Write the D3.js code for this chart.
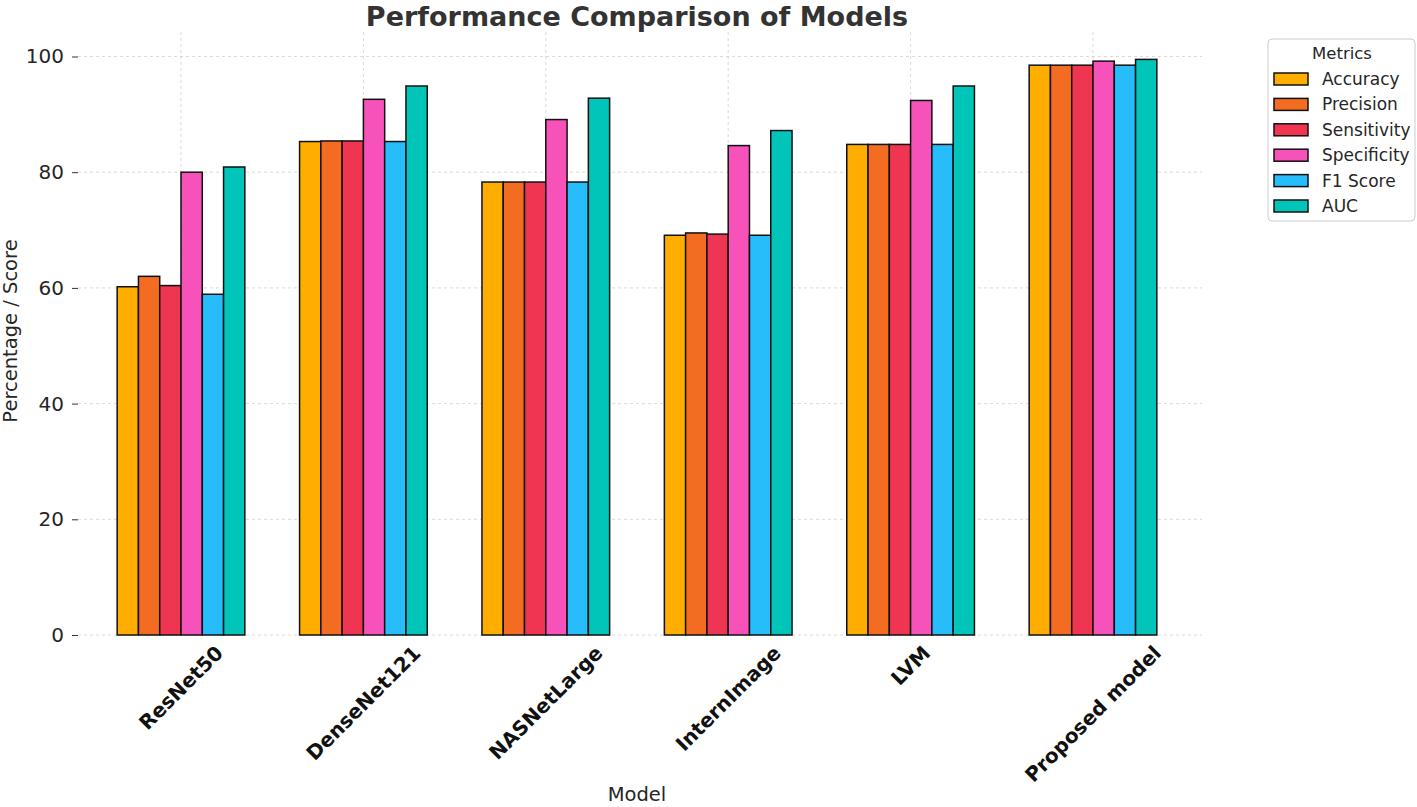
<!DOCTYPE html>
<html><head><meta charset="utf-8">
<script src="https://cdn.jsdelivr.net/npm/d3@7"></script>
<style>body{margin:0;background:#fff;} svg{display:block;font-family:"DejaVu Sans",sans-serif;}</style>
</head><body>
<svg id="chart" width="1417" height="807"></svg>
<script>
const models = ["ResNet50","DenseNet121","NASNetLarge","InternImage","LVM","Proposed model"];
const metrics = ["Accuracy","Precision","Sensitivity","Specificity","F1 Score","AUC"];
const accuracy    = [60.2, 85.3, 78.3, 69.1, 84.8, 98.5];
const precision   = [62.0, 85.4, 78.3, 69.5, 84.8, 98.5];
const sensitivity = [60.4, 85.4, 78.3, 69.3, 84.8, 98.5];
const specificity = [80.0, 92.6, 89.1, 84.6, 92.4, 99.2];
const f1score     = [58.9, 85.3, 78.3, 69.1, 84.8, 98.5];
const auc         = [80.9, 94.9, 92.8, 87.2, 94.9, 99.5];
const yTicks = [0, 20, 40, 60, 80, 100];
const colors = ["#FFAE00","#F36C21","#F03552","#F652B9","#27BDFB","#00C5B8"];
const series = [accuracy, precision, sensitivity, specificity, f1score, auc];

(function(){
const svg = d3.select("#chart");
const pl = 78, pr = 1202, pt = 26, pb = 635;
const x = d3.scalePoint().domain(models).range([181, 1093]).padding(0);
const y = d3.scaleLinear().domain([0, 105.3]).range([pb, pb - 105.3*5.785]);
const step = (1093 - 181) / (models.length - 1);
const groupW = step * 0.7;
const barW = groupW / metrics.length;

// grid
const g = svg.append("g");
g.selectAll(".hg").data(yTicks).join("line")
  .attr("x1", pl).attr("x2", pr)
  .attr("y1", d => y(d)).attr("y2", d => y(d))
  .attr("stroke", "#d0d0d0").attr("stroke-width", 0.8).attr("stroke-dasharray", "3,3");
g.selectAll(".vg").data(models).join("line")
  .attr("x1", d => x(d)).attr("x2", d => x(d))
  .attr("y1", pt + 6).attr("y2", pb)
  .attr("stroke", "#d0d0d0").attr("stroke-width", 0.8).attr("stroke-dasharray", "3,3");

// bars
series.forEach((vals, i) => {
  svg.append("g").selectAll("rect").data(vals).join("rect")
    .attr("x", (d, j) => x(models[j]) - groupW/2 + i*barW)
    .attr("y", d => y(d))
    .attr("width", barW)
    .attr("height", d => y(0) - y(d))
    .attr("fill", colors[i])
    .attr("stroke", "#111").attr("stroke-width", 1.5);
});

// y axis
const ya = svg.append("g").attr("transform", `translate(${pl},0)`)
  .call(d3.axisLeft(y).tickValues(yTicks).tickSize(6).tickPadding(8));
ya.select(".domain").remove();
ya.selectAll("line").attr("stroke", "#333");
ya.selectAll("text").attr("font-size", 20).attr("fill", "#262626").attr("font-family", "DejaVu Sans");

// x tick labels
svg.append("g").selectAll("text").data(models).join("text")
  .text(d => d)
  .attr("font-size", 20).attr("font-weight", "bold").attr("fill", "#111")
  .attr("text-anchor", "middle").attr("dominant-baseline", "central")
  .each(function(d) {
    const len = this.getComputedTextLength();
    const half = (len + 18) * Math.SQRT1_2 / 2;
    d3.select(this).attr("transform", `translate(${x(d)},${643 + half}) rotate(-45)`);
  });

// titles
svg.append("text").text("Performance Comparison of Models")
  .attr("x", 637).attr("y", 26).attr("text-anchor", "middle")
  .attr("font-size", 27).attr("font-weight", "bold").attr("fill", "#333");
svg.append("text").text("Model")
  .attr("x", 637).attr("y", 801).attr("text-anchor", "middle")
  .attr("font-size", 19.5).attr("fill", "#262626");
svg.append("text").text("Percentage / Score")
  .attr("transform", "translate(17,331) rotate(-90)").attr("text-anchor", "middle")
  .attr("font-size", 19.5).attr("fill", "#262626");

// legend
const lg = svg.append("g").attr("transform", "translate(1268,39)");
lg.append("rect").attr("width", 147).attr("height", 182).attr("rx", 4)
  .attr("fill", "#fff").attr("stroke", "#ccc");
lg.append("text").text("Metrics").attr("x", 74).attr("y", 14).attr("text-anchor", "middle")
  .attr("dominant-baseline", "central")
  .attr("font-size", 16.5).attr("fill", "#262626");
metrics.forEach((m, i) => {
  const yy = 40 + i * 25.4;
  lg.append("rect").attr("x", 6).attr("y", yy - 6).attr("width", 34).attr("height", 12)
    .attr("fill", colors[i]).attr("stroke", "#111").attr("stroke-width", 1.5);
  lg.append("text").text(m).attr("x", 54).attr("y", yy).attr("dominant-baseline", "central")
    .attr("font-size", 17).attr("fill", "#262626");
});
})();
</script>
</body></html>
